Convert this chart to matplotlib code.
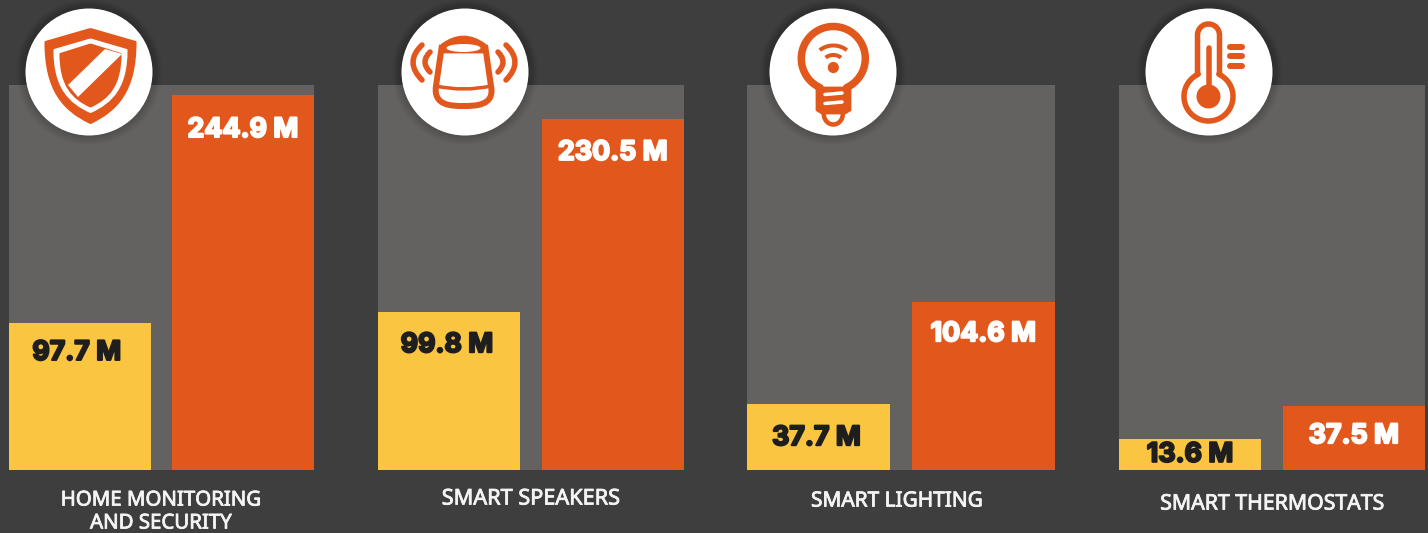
import numpy as np
import matplotlib
matplotlib.use('Agg')
import matplotlib.pyplot as plt
import matplotlib.patheffects as pe
from matplotlib.patches import Circle, Ellipse, PathPatch, Polygon
from matplotlib.path import Path

categories = ['HOME MONITORING\nAND SECURITY', 'SMART SPEAKERS', 'SMART LIGHTING', 'SMART THERMOSTATS']
value_labels_2020 = ['97.7 M', '99.8 M', '37.7 M', '13.6 M']
value_labels_2025 = ['244.9 M', '230.5 M', '104.6 M', '37.5 M']
# bar heights as drawn in the picture, percent of the panel height
heights_2020 = [38.2, 41.0, 17.1, 8.1]
heights_2025 = [97.4, 91.2, 43.6, 16.6]

BG = '#3e3e3e'
PANEL = '#636260'
YELLOW = '#fac540'
ORANGE = '#e2571c'
W, H = 1428, 533
PX = 0.72  # one pixel in points

panel_lefts = [9, 378, 747, 1119]
panel_widths = [305, 306, 308, 306]
label_centers = [(161, 512), (531, 499), (897, 501), (1272, 504)]
label_sizes = [14.7, 15.6, 15.0, 15.3]
drop_2020 = [30, 33, 34, 16]
drop_2025 = [35, 34, 32, 30]
shift_2020 = [-3, -2, -2, 0]
icon_centers = [(89, 72), (465, 72), (833, 72), (1209, 72)]

fig = plt.figure(figsize=(W / 100, H / 100), dpi=100, facecolor=BG)


def value_text(ax, x, h, label, dx, drop, color):
    ax.annotate(label, (x, h), xytext=(dx * PX, -drop * PX), textcoords='offset points',
                ha='center', va='center', color=color, fontsize=19.3,
                family='Inter', fontweight='bold',
                path_effects=[pe.withStroke(linewidth=1.5, foreground=color)])


for i in range(4):
    ax = fig.add_axes([panel_lefts[i] / W, 1 - 470 / H, panel_widths[i] / W, 385 / H])
    ax.set_facecolor(PANEL)
    ax.bar([0, 1], [heights_2020[i], heights_2025[i]], width=0.868, color=[YELLOW, ORANGE])
    ax.set_xlim(-0.434, 1.434)
    ax.set_ylim(0, 100)
    ax.set_xticks([])
    ax.set_yticks([])
    for s in ax.spines.values():
        s.set_visible(False)
    value_text(ax, 0, heights_2020[i], value_labels_2020[i], shift_2020[i], drop_2020[i], '#1e1e1e')
    value_text(ax, 1, heights_2025[i], value_labels_2025[i], 0, drop_2025[i], 'white')

# overlay in pixel coordinates for the icons and captions
ov = fig.add_axes([0, 0, 1, 1], facecolor='none')
ov.set_xlim(0, W)
ov.set_ylim(H, 0)
ov.axis('off')

for i, (x, y) in enumerate(label_centers):
    ov.text(x, y, categories[i], ha='center', va='center', color='#f4f4f4', fontsize=label_sizes[i],
            family='Noto Sans', linespacing=1.2,
            path_effects=[pe.withStroke(linewidth=0.6, foreground='#f4f4f4')])

for cx, cy in icon_centers:
    for r in range(73, 64, -1):
        ov.add_patch(Circle((cx, cy), r, fc='black', ec='none', alpha=0.02))
    ov.add_patch(Circle((cx, cy), 63.5, fc='white', ec='none'))


def stroke(xs, ys, w, color=ORANGE):
    ov.plot(xs, ys, color=color, lw=w * PX, solid_capstyle='round', solid_joinstyle='round')


def curve(p0, c, p1, w, color=ORANGE):
    path = Path([p0, c, p1], [Path.MOVETO, Path.CURVE3, Path.CURVE3])
    ov.add_patch(PathPatch(path, fc='none', ec=color, lw=w * PX, capstyle='round'))


def shield(cx, top, half, shoulder, bottom, color):
    span = bottom - shoulder
    verts = [(cx, top), (cx + half, shoulder),
             (cx + half, shoulder + 0.6 * span), (cx + half * 0.6, bottom - 0.16 * span), (cx, bottom),
             (cx - half * 0.6, bottom - 0.16 * span), (cx - half, shoulder + 0.6 * span), (cx - half, shoulder),
             (cx, top)]
    codes = [Path.MOVETO, Path.LINETO, Path.CURVE4, Path.CURVE4, Path.CURVE4,
             Path.CURVE4, Path.CURVE4, Path.CURVE4, Path.LINETO]
    ov.add_patch(PathPatch(Path(verts, codes), fc=color, ec=color, lw=1.5, joinstyle='round'))


# shield
shield(90.5, 29, 45, 42, 123, ORANGE)
shield(90.5, 39.5, 36, 50, 112, 'white')
shield(90.5, 44.5, 30, 54, 106.5, ORANGE)
ov.add_patch(Polygon([(105, 49), (68, 85), (78, 97), (122, 54)], fc='white', ec='none'))

# speaker
top = Path([(442, 45), (463.5, 29), (485, 45), (485, 52), (442, 52), (442, 45)],
           [Path.MOVETO, Path.CURVE3, Path.CURVE3, Path.LINETO, Path.LINETO, Path.CLOSEPOLY])
ov.add_patch(PathPatch(top, fc=ORANGE, ec=ORANGE, lw=2, joinstyle='round'))
ov.add_patch(Ellipse((463.5, 48), 34, 8, fc='white', ec='none'))
path = Path([(442, 45), (436, 86), (433, 106), (452, 106), (463, 106), (475, 106), (495, 106), (491, 86), (485, 45)],
            [Path.MOVETO, Path.LINETO, Path.CURVE4, Path.CURVE4, Path.LINETO, Path.CURVE4, Path.CURVE4, Path.CURVE4, Path.LINETO])
ov.add_patch(PathPatch(path, fc='none', ec=ORANGE, lw=6 * PX, joinstyle='round'))
curve((436, 86), (463.5, 92), (491, 86), 3.5)
curve((422, 45), (404, 62), (422, 80), 5.5)
curve((430, 52), (420, 62), (430, 72), 5.5)
curve((506, 45), (524, 62), (506, 80), 5.5)
curve((498, 52), (508, 62), (498, 72), 5.5)

# bulb
cx, cy, r = 833.3, 58.5, 32
a = np.radians(np.linspace(245, -65, 90))
bx = np.r_[cx - 12, cx + r * np.cos(a), cx + 12]
by = np.r_[90, cy - r * np.sin(a), 90]
stroke(bx, by, 7.5)
ov.add_patch(Polygon([(817, 88), (850, 88), (850, 110), (845, 113), (822, 113), (817, 110)], fc=ORANGE, ec=ORANGE, lw=2, joinstyle='round'))
stroke([825, 842], [94.5, 93], 3.5, 'white')
stroke([825, 842], [103.5, 102], 3.5, 'white')
ax_x = cx + 9.5 * np.cos(np.linspace(np.pi, 0, 30))
ax_y = 114 + 10.5 * np.sin(np.linspace(np.pi, 0, 30))
stroke(ax_x, ax_y, 4.5)
ov.add_patch(Circle((cx, 67.5), 5.6, fc=ORANGE, ec='none'))
for rad in (12.5, 22):
    aa = np.radians(np.linspace(-128, -52, 25))
    ov.plot(cx + rad * np.cos(aa), 67.5 + rad * np.sin(aa), color=ORANGE, lw=4 * PX, solid_capstyle='butt')

# thermometer
cx, cy, r = 1208.5, 96.5, 24.5
a = np.radians(np.linspace(-65, 245, 80))
arc = np.linspace(np.pi, 0, 30)
tx = np.r_[cx - 11, cx + 11 * np.cos(arc), cx + 11, cx + r * np.cos(a), cx - 11]
ty = np.r_[74, 35 - 11 * np.sin(arc), 74, cy + r * np.sin(a), 74]
stroke(tx, ty, 5.5)
ov.add_patch(Circle((cx, cy), 12, fc=ORANGE, ec='none'))
stroke([cx, cx], [48, 96], 5.5)
for yy in (46.7, 56, 65.7):
    stroke([1230, 1242], [yy, yy], 6)

fig.savefig('out.png', dpi=100, facecolor=BG)
